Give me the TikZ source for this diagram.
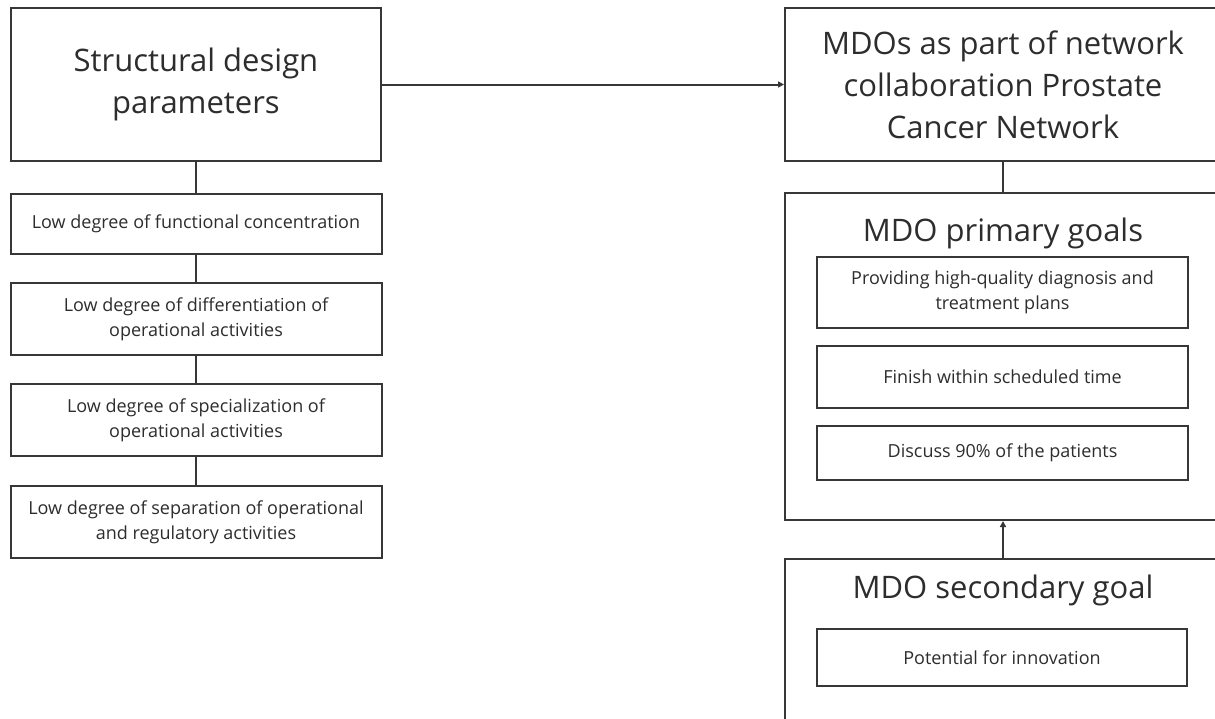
\documentclass[tikz,border=0pt]{standalone}
\usepackage{fontspec}
\setmainfont{Open Sans}
\usetikzlibrary{arrows.meta}
\definecolor{ink}{RGB}{45,45,45}
\definecolor{edge}{RGB}{55,55,55}
\begin{document}
\begin{tikzpicture}[x=1pt,y=-1pt,
  box/.style={draw=edge, line width=2pt, rectangle, inner sep=0pt, text=ink, align=center},
  big/.style={font=\fontsize{31}{42}\selectfont},
  small/.style={font=\fontsize{18}{25}\selectfont},
  link/.style={draw=edge, line width=2pt},
  tip/.style={-{Triangle[length=6pt,width=6pt]}}
]
\clip (0,0) rectangle (1215,718);
\fill[white] (0,0) rectangle (1215,718);

% left column: design parameters
\node[box,big,minimum width=370pt,minimum height=153pt] (sdp) at (196,84.5) {Structural design\\parameters};
\node[box,small,minimum width=371pt,minimum height=60pt] (c1) at (196,224) {Low degree of functional concentration};
\node[box,small,minimum width=371pt,minimum height=72pt] (c2) at (196,319) {Low degree of differentiation of\\operational activities};
\node[box,small,minimum width=371pt,minimum height=72pt] (c3) at (196,420) {Low degree of specialization of\\operational activities};
\node[box,small,minimum width=371pt,minimum height=72pt] (c4) at (196,522) {Low degree of separation of operational\\and regulatory activities};

% right column: network and goals
\node[box,big,minimum width=436pt,minimum height=153pt] (net) at (1003,84.5) {MDOs as part of network\\collaboration Prostate\\Cancer Network};
\node[box,minimum width=436pt,minimum height=327pt] (prim) at (1003,356.5) {};
\node[big,anchor=base,text=ink] (ptitle) at (1003,241.7) {MDO primary goals};
\node[box,small,minimum width=371pt,minimum height=71pt] (p1) at (1002.5,292.5) {Providing high-quality diagnosis and\\treatment plans};
\node[box,small,minimum width=371pt,minimum height=62pt] (p2) at (1002.5,377) {Finish within scheduled time};
\node[box,small,minimum width=371pt,minimum height=54pt] (p3) at (1002.5,453) {Discuss 90\% of the patients};

\node[box,minimum width=436pt,minimum height=200pt] (sec) at (1003,659) {};
\node[big,anchor=base,text=ink] (stitle) at (1003,598) {MDO secondary goal};
\node[box,small,minimum width=370pt,minimum height=57pt] (s1) at (1002,657.5) {Potential for innovation};

% connectors
\draw[link,tip] (sdp.east) -- (net.west);
\draw[link] (sdp.south) -- (c1.north);
\draw[link] (c1.south) -- (c2.north);
\draw[link] (c2.south) -- (c3.north);
\draw[link] (c3.south) -- (c4.north);
\draw[link] (net.south) -- (prim.north);
\draw[link,tip] (sec.north) -- (prim.south);
\end{tikzpicture}
\end{document}
